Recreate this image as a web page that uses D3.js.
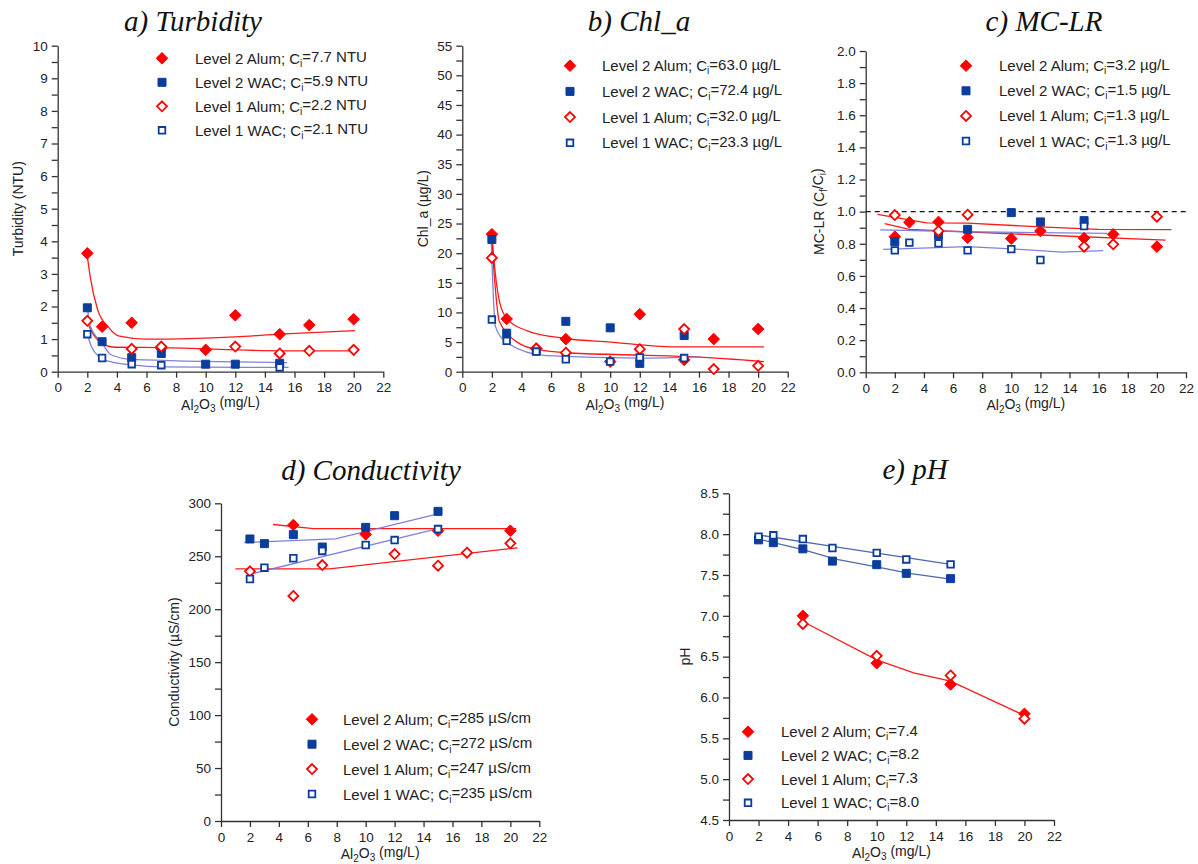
<html>
<head>
<script src="https://d3js.org/d3.v7.min.js"></script>
<style>
  body { margin: 0; background: #fff; }
  text { font-family: "Liberation Sans", Arial, sans-serif; fill: #222; }
  .title { font-family: "Liberation Serif", "Times New Roman", serif; font-style: italic; font-size: 29px; fill: #111; }
</style>
</head>
<body>
<svg id="chart" width="1198" height="864"></svg>
<script>
// ---- data ----
const xTicks = [0, 2, 4, 6, 8, 10, 12, 14, 16, 18, 20, 22];
const seriesNames = ['Level 2 Alum; C', 'Level 2 WAC; C', 'Level 1 Alum; C', 'Level 1 WAC; C'];

// a) turbidity
const turbTicks = [0, 1, 2, 3, 4, 5, 6, 7, 8, 9, 10];
const turbCi = ['=7.7 NTU', '=5.9 NTU', '=2.2 NTU', '=2.1 NTU'];
const turbL2Alum = [[2, 3.63], [3, 1.38], [5, 1.5], [7, 0.72], [10, 0.67], [12, 1.73], [15, 1.15], [17, 1.43], [20, 1.61]];
const turbL2Wac = [[2, 1.96], [3, 0.92], [5, 0.43], [7, 0.56], [10, 0.23], [12, 0.23], [15, 0.26]];
const turbL1Alum = [[2, 1.56], [5, 0.7], [7, 0.77], [12, 0.77], [15, 0.56], [17, 0.64], [20, 0.67]];
const turbL1Wac = [[2, 1.15], [3, 0.42], [5, 0.23], [7, 0.2], [15, 0.13]];
const turbFitL2Alum = [[2, 3.55], [2.2, 2.9], [2.7, 1.9], [3.4, 1.38], [4.1, 1.1], [6, 1.0], [12, 1.07], [15, 1.15], [20.1, 1.26]];
const turbFitL1Alum = [[2, 1.5], [2.5, 1.08], [3, 0.87], [3.9, 0.75], [7, 0.74], [15, 0.64], [20.1, 0.64]];
const turbFitL2Wac = [[2, 1.98], [2.2, 1.4], [3, 0.88], [3.6, 0.52], [5, 0.38], [15.5, 0.28]];
const turbFitL1Wac = [[2, 1.15], [2.3, 0.75], [2.8, 0.46], [3.6, 0.3], [5, 0.21], [7, 0.15], [15.6, 0.13]];

// b) chl_a
const chlTicks = [0, 5, 10, 15, 20, 25, 30, 35, 40, 45, 50, 55];
const chlCi = ['=63.0 \u00b5g/L', '=72.4 \u00b5g/L', '=32.0 \u00b5g/L', '=23.3 \u00b5g/L'];
const chlL2Alum = [[2, 23.2], [3, 8.9], [5, 3.9], [7, 5.5], [10, 1.7], [12, 9.7], [15, 2.0], [17, 5.5], [20, 7.2]];
const chlL2Wac = [[2, 22.3], [3, 6.5], [5, 3.5], [7, 8.5], [10, 7.4], [12, 1.4], [15, 6.1]];
const chlL1Alum = [[2, 19.2], [5, 3.9], [7, 3.2], [12, 3.8], [15, 7.2], [17, 0.45], [20, 1.0]];
const chlL1Wac = [[2, 8.8], [3, 5.2], [5, 3.4], [7, 2.1], [10, 1.7], [12, 2.4], [15, 2.3]];
const chlFitL2Alum = [[2, 23.3], [2.1, 20], [2.5, 12], [3, 9], [4.4, 6.9], [7, 5.6], [10, 5], [14.3, 4.2], [20.4, 4.2]];
const chlFitL1Alum = [[2, 22], [2.2, 15], [2.5, 8.5], [3.9, 4.7], [5, 3.8], [7, 3.2], [12, 2.8], [15.7, 2.5], [20.4, 1.7]];
const chlFitWac = [[1.95, 22.5], [2.24, 7.6], [3, 4.9], [5.7, 2.7], [12, 2.3], [16.1, 2.5]];

// c) MC-LR
const mcTicks = [0, 0.2, 0.4, 0.6, 0.8, 1.0, 1.2, 1.4, 1.6, 1.8, 2.0];
const mcCi = ['=3.2 \u00b5g/L', '=1.5 \u00b5g/L', '=1.3 \u00b5g/L', '=1.3 \u00b5g/L'];
const mcL2Alum = [[2, 0.844], [3, 0.934], [5, 0.936], [7, 0.838], [10, 0.832], [12, 0.88], [15, 0.835], [17, 0.859], [20, 0.782]];
const mcL2Wac = [[2, 0.813], [5, 0.855], [7, 0.89], [10, 0.994], [12, 0.936], [15, 0.944]];
const mcL1Alum = [[2, 0.979], [5, 0.88], [7, 0.981], [15, 0.782], [17, 0.797], [20, 0.969]];
const mcL1Wac = [[2, 0.759], [3, 0.807], [5, 0.803], [7, 0.759], [10, 0.767], [12, 0.699], [15, 0.91]];
const mcFitUpperRed = [[0.8, 0.983], [4.2, 0.93], [7, 0.928], [12, 0.905], [16, 0.89], [21, 0.888]];
const mcFitLowerRed = [[1.3, 0.925], [3, 0.89], [10, 0.862], [20.6, 0.823]];
const mcFitUpperBlue = [[1, 0.886], [7, 0.875], [16.6, 0.865]];
const mcFitLowerBlue = [[1.2, 0.765], [7, 0.782], [10, 0.768], [13.5, 0.748], [16.3, 0.757]];
const mcReference = 1.0;

// d) conductivity
const condTicks = [0, 50, 100, 150, 200, 250, 300];
const condCi = ['=285 \u00b5S/cm', '=272 \u00b5S/cm', '=247 \u00b5S/cm', '=235 \u00b5S/cm'];
const condL2Alum = [[5, 279.5], [10, 270.7], [15, 274.1], [20, 274.1]];
const condL2Wac = [[2, 266.3], [3, 261.9], [5, 270.4], [7, 258.7], [10, 277.3], [12, 288.3], [15, 292.4]];
const condL1Alum = [[2, 235.8], [5, 212.5], [7, 241.7], [12, 252.1], [15, 241.1], [17, 253.4], [20, 262.2]];
const condL1Wac = [[2, 228.5], [3, 239.2], [5, 248.1], [7, 255], [10, 260.6], [12, 265.3], [15, 275.7]];
const condFitL2Alum = [[3.6, 280], [6.4, 276], [20.4, 276]];
const condFitL1Alum = [[1, 238], [7.5, 238], [20.5, 258]];
const condFitL2Wac = [[1.6, 263], [7.9, 266.5], [15, 290]];
const condFitL1Wac = [[2, 233], [15, 276]];

// e) pH
const phTicks = [4.5, 5.0, 5.5, 6.0, 6.5, 7.0, 7.5, 8.0, 8.5];
const phCi = ['=7.4', '=8.2', '=7.3', '=8.0'];
const phL2Alum = [[5, 7.0], [10, 6.42], [15, 6.16], [20, 5.8]];
const phL2Wac = [[2, 7.93], [3, 7.895], [5, 7.82], [7, 7.67], [10, 7.626], [12, 7.52], [15, 7.455]];
const phL1Alum = [[5, 6.9], [10, 6.51], [15, 6.27], [20, 5.74]];
const phL1Wac = [[2, 7.97], [3, 7.986], [5, 7.94], [7, 7.83], [10, 7.77], [12, 7.69], [15, 7.63]];
const phFitAlum = [[5, 6.93], [10, 6.46], [12.5, 6.3], [15, 6.2], [20, 5.78]];
const phFitL2Wac = [[2, 7.94], [5, 7.81], [7.3, 7.69], [10, 7.6], [12.2, 7.52], [15, 7.45]];
const phFitL1Wac = [[2, 7.99], [7, 7.85], [15, 7.63]];

// ---- styling ----
const RED = '#ff0000';
const BLUE = '#0b3d9c';
const LINE_BLUE = '#7272d8';
const markerStyles = [
  { shape: 'diamond', fill: RED, stroke: RED },
  { shape: 'square', fill: BLUE, stroke: BLUE },
  { shape: 'diamond', fill: '#fff', stroke: RED },
  { shape: 'square', fill: '#fff', stroke: BLUE }
];

const svg = d3.select('#chart');

function markerPath(shape, hollow) {
  if (shape === 'diamond') {
    const r = hollow ? 5 : 5.8;
    return `M0,${-r}L${r},0L0,${r}L${-r},0Z`;
  }
  const s = hollow ? 3.3 : 4;
  return `M${-s},${-s}H${s}V${s}H${-s}Z`;
}

function drawMarker(g, style, x, y) {
  const hollow = style.fill === '#fff';
  g.append('path')
    .attr('d', markerPath(style.shape, hollow))
    .attr('transform', `translate(${x},${y})`)
    .attr('fill', style.fill)
    .attr('stroke', style.stroke)
    .attr('stroke-width', hollow ? 1.8 : 1);
}

// parts: [[text, isSub], ...]
function richText(t, parts, subSize) {
  parts.forEach((p, i) => {
    const prevSub = i > 0 && parts[i - 1][1];
    const ts = t.append('tspan').text(p[0]);
    if (p[1]) ts.attr('dy', '0.3em').style('font-size', subSize);
    else if (prevSub) ts.attr('dy', '-0.3em');
  });
}

function drawPanel(p) {
  const [x0, x1, yT, yB] = p.box;
  const x = d3.scaleLinear().domain([0, 22]).range([x0, x1]);
  const y = d3.scaleLinear().domain([p.yTicks[0], p.yTicks[p.yTicks.length - 1]]).range([yB, yT]);
  const g = svg.append('g');

  g.append('text').attr('class', 'title')
    .attr('x', p.titleAt[0]).attr('y', p.titleAt[1])
    .attr('text-anchor', 'middle').text(p.title);

  // axes
  const step = p.yTicks[1] - p.yTicks[0];
  const minor = p.yTicks.slice(0, -1).map(v => v + step / 2);
  g.append('g').attr('transform', `translate(${x0},0)`)
    .call(d3.axisLeft(y).tickValues(minor).tickSize(6).tickFormat(''))
    .call(a => a.select('.domain').remove());
  g.append('g').attr('transform', `translate(${x0},0)`)
    .call(d3.axisLeft(y).tickValues(p.yTicks).tickSize(6).tickSizeOuter(0).tickPadding(4).tickFormat(d3.format(p.yFmt)));
  g.append('g').attr('transform', `translate(0,${yB})`)
    .call(d3.axisBottom(x).tickValues(xTicks).tickSize(6).tickSizeOuter(0).tickPadding(5));
  g.selectAll('.domain, .tick line').attr('stroke', '#333').attr('stroke-width', 1.3);
  g.selectAll('.tick text').style('font-size', '13.5px').attr('fill', '#222');

  // axis titles
  const xt = g.append('text').attr('x', (x0 + x1) / 2).attr('y', yB + 38)
    .attr('text-anchor', 'middle').style('font-size', '14px');
  richText(xt, [['Al', 0], ['2', 1], ['O', 0], ['3', 1], [' (mg/L)', 0]], '10px');
  const yt = g.append('text')
    .attr('transform', `translate(${p.yLabelX},${(yT + yB) / 2}) rotate(-90)`)
    .attr('text-anchor', 'middle').style('font-size', '14px');
  richText(yt, p.yLabel, '10px');

  if (p.refLine !== undefined) {
    g.append('line').attr('x1', x0).attr('x2', x1)
      .attr('y1', y(p.refLine)).attr('y2', y(p.refLine))
      .attr('stroke', '#111').attr('stroke-width', 1.2).attr('stroke-dasharray', '5,4');
  }

  // fitted lines
  const line = d3.line().x(d => x(d[0])).y(d => y(d[1])).curve(p.curve || d3.curveLinear);
  p.fits.forEach(f => {
    g.append('path').attr('d', line(f.pts)).attr('fill', 'none')
      .attr('stroke', f.color).attr('stroke-width', 1.3).attr('opacity', 0.9);
  });

  // points
  p.series.forEach((s, i) => {
    s.forEach(d => drawMarker(g, markerStyles[i], x(d[0]), y(d[1])));
  });

  // legend
  const [lx, ly, dy, tx] = p.legendAt;
  p.ci.forEach((c, i) => {
    const ry = ly + i * dy;
    drawMarker(g, markerStyles[i], lx, ry);
    const t = g.append('text').attr('x', tx).attr('y', ry + 5.5).style('font-size', '15px');
    richText(t, [[seriesNames[i], 0], ['i', 1], [c, 0]], '10px');
  });
}

const panels = [
  {
    title: 'a) Turbidity', titleAt: [193, 31], box: [57.7, 383.3, 45.7, 371.7],
    yTicks: turbTicks, yFmt: 'd', yLabel: [['Turbidity (NTU)', 0]], yLabelX: 23,
    legendAt: [162, 58.3, 24, 195], ci: turbCi, curve: d3.curveMonotoneX,
    series: [turbL2Alum, turbL2Wac, turbL1Alum, turbL1Wac],
    fits: [
      { pts: turbFitL2Alum, color: RED }, { pts: turbFitL1Alum, color: RED },
      { pts: turbFitL2Wac, color: LINE_BLUE }, { pts: turbFitL1Wac, color: LINE_BLUE }
    ]
  },
  {
    title: 'b) Chl_a', titleAt: [639, 31], box: [462.3, 787.7, 45.7, 371.7],
    yTicks: chlTicks, yFmt: 'd', yLabel: [['Chl_a (\u00b5g/L)', 0]], yLabelX: 428,
    legendAt: [570, 65.7, 25.7, 602], ci: chlCi, curve: d3.curveMonotoneX,
    series: [chlL2Alum, chlL2Wac, chlL1Alum, chlL1Wac],
    fits: [
      { pts: chlFitL2Alum, color: RED }, { pts: chlFitL1Alum, color: RED },
      { pts: chlFitWac, color: LINE_BLUE }
    ]
  },
  {
    title: 'c) MC-LR', titleAt: [1044, 31], box: [865.7, 1186, 51, 372.3],
    yTicks: mcTicks, yFmt: '.1f', yLabel: [['MC-LR (C', 0], ['f', 1], ['/C', 0], ['i', 1], [')', 0]], yLabelX: 824,
    legendAt: [966, 65.7, 25.1, 999], ci: mcCi, refLine: mcReference,
    series: [mcL2Alum, mcL2Wac, mcL1Alum, mcL1Wac],
    fits: [
      { pts: mcFitUpperRed, color: RED }, { pts: mcFitLowerRed, color: RED },
      { pts: mcFitUpperBlue, color: LINE_BLUE }, { pts: mcFitLowerBlue, color: LINE_BLUE }
    ]
  },
  {
    title: 'd) Conductivity', titleAt: [371, 480], box: [221, 539.3, 503.3, 821],
    yTicks: condTicks, yFmt: 'd', yLabel: [['Conductivity (\u00b5S/cm)', 0]], yLabelX: 179,
    legendAt: [312, 719.3, 24.9, 343], ci: condCi,
    series: [condL2Alum, condL2Wac, condL1Alum, condL1Wac],
    fits: [
      { pts: condFitL2Alum, color: RED }, { pts: condFitL1Alum, color: RED },
      { pts: condFitL2Wac, color: LINE_BLUE }, { pts: condFitL1Wac, color: LINE_BLUE }
    ]
  },
  {
    title: 'e) pH', titleAt: [915, 479], box: [729, 1054, 493.3, 820],
    yTicks: phTicks, yFmt: '.1f', yLabel: [['pH', 0]], yLabelX: 690,
    legendAt: [748, 731.7, 23.7, 781], ci: phCi,
    series: [phL2Alum, phL2Wac, phL1Alum, phL1Wac],
    fits: [
      { pts: phFitAlum, color: RED }, { pts: phFitL2Wac, color: '#3a58a8' }, { pts: phFitL1Wac, color: '#3a58a8' }
    ]
  }
];

panels.forEach(drawPanel);
</script>
</body>
</html>
